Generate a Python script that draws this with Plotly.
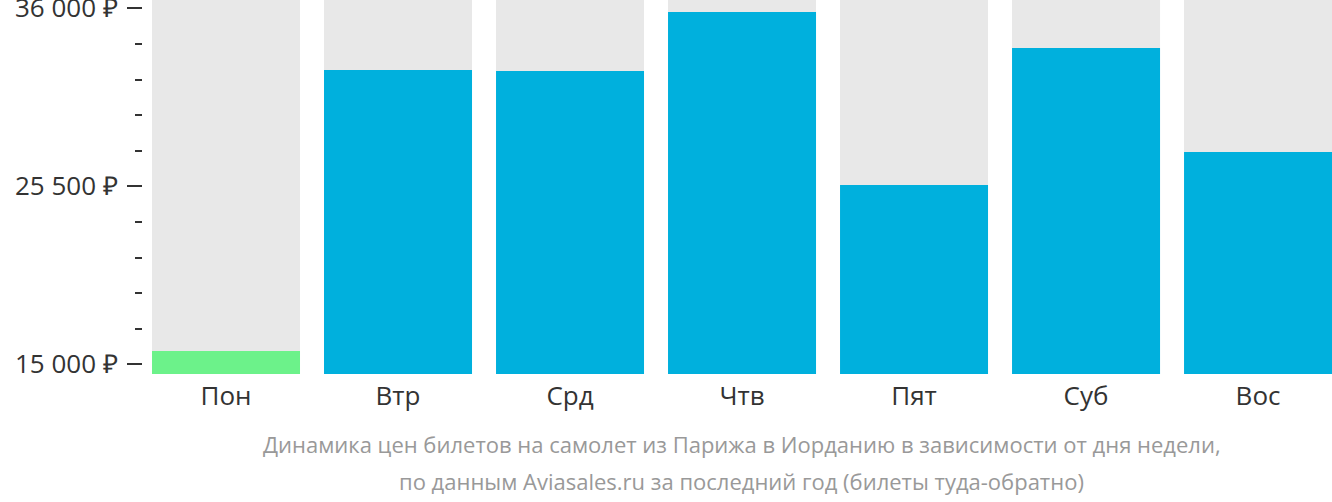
import plotly.graph_objects as go

days = ["Пон", "Втр", "Срд", "Чтв", "Пят", "Суб", "Вос"]
prices = [15785, 32360, 32300, 35780, 25575, 33660, 27520]
cheapest_color = "#6cf28a"
normal_color = "#00b0dd"
bg_color = "#e8e8e8"

y_min, y_max = 14428, 36490
major_ticks = [15000, 25500, 36000]
major_labels = ["15 000 ₽", "25 500 ₽", "36 000 ₽"]

colors = [cheapest_color if p == min(prices) else normal_color for p in prices]

fig = go.Figure()
fig.add_trace(go.Bar(x=days, y=[y_max - y_min] * len(days), base=y_min,
                     marker=dict(color=bg_color, line=dict(width=0)),
                     hoverinfo="skip", showlegend=False))
fig.add_trace(go.Bar(x=days, y=[p - y_min for p in prices], base=y_min,
                     marker=dict(color=colors, line=dict(width=0)),
                     showlegend=False))

fig.update_layout(
    width=1332, height=502,
    margin=dict(l=143, r=0, t=0, b=128),
    barmode="overlay", bargap=24 / 172,
    plot_bgcolor="white", paper_bgcolor="white",
    font=dict(family="Open Sans", color="#333333"),
    xaxis=dict(range=[-0.4826, 6.43], showgrid=False, showline=False, zeroline=False,
               automargin=False,
               ticks="", tickfont=dict(size=26, color="#333333"), ticklabelstandoff=4),
    yaxis=dict(range=[y_min, y_max], tickvals=major_ticks, ticktext=major_labels,
               ticks="outside", ticklen=15, tickwidth=2, tickcolor="#333333",
               showgrid=False, zeroline=False, showline=False, automargin=False,
               ticklabeloverflow="allow",
               tickfont=dict(size=26, color="#333333"), ticklabelstandoff=4,
               minor=dict(tick0=15000, dtick=2100, ticks="outside", ticklen=7,
                          tickwidth=2, tickcolor="#333333", showgrid=False)),
    annotations=[
        dict(text="Динамика цен билетов на самолет из Парижа в Иорданию в зависимости от дня недели,",
             xref="paper", yref="paper", x=0.5 + 4 / 1189, y=-0.188, xanchor="center", yanchor="middle",
             showarrow=False, font=dict(size=22, color="#999999")),
        dict(text="по данным Aviasales.ru за последний год (билеты туда-обратно)",
             xref="paper", yref="paper", x=0.5 + 4 / 1189, y=-0.285, xanchor="center", yanchor="middle",
             showarrow=False, font=dict(size=22, color="#999999")),
    ],
)

fig.write_html("out.html")
